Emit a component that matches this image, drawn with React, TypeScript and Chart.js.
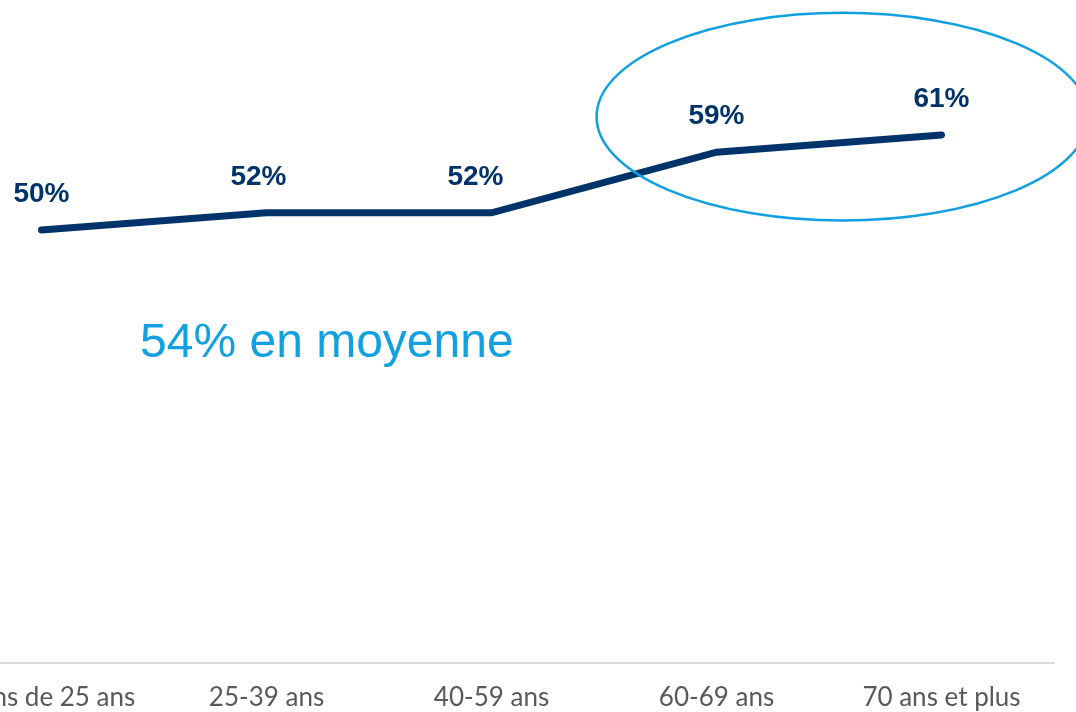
import React, { useEffect, useRef } from "react";
import { Chart, registerables } from "chart.js";

Chart.register(...registerables);

// ---- data ----
const categories: string[] = [
  "Moins de 25 ans",
  "25-39 ans",
  "40-59 ans",
  "60-69 ans",
  "70 ans et plus",
];
const values: number[] = [50, 52, 52, 59, 61];
const valueLabels: string[] = values.map((v) => `${v}%`);
const averageText = "54% en moyenne";
const yMin = 0;
const yMax = 70;

// ---- styles ----
const NAVY = "#00336A";
const LIGHT_BLUE = "#12A0E0";
const AXIS_TEXT = "#595959";
const AXIS_LINE = "#D9D9D9";
const labelNudgeX = [0, -8, -16, 0, 0];

const overlayPlugin = {
  id: "overlay",
  afterDatasetsDraw(chart: any) {
    const ctx = chart.ctx as CanvasRenderingContext2D;
    const meta = chart.getDatasetMeta(0);
    const xs = chart.scales.x;
    const ys = chart.scales.y;
    ctx.save();
    // value labels
    ctx.font = 'bold 28px "Liberation Sans", Arial, sans-serif';
    ctx.fillStyle = NAVY;
    ctx.textAlign = "center";
    ctx.textBaseline = "alphabetic";
    meta.data.forEach((pt: any, i: number) => {
      ctx.fillText(valueLabels[i], pt.x + labelNudgeX[i], pt.y - 28);
    });
    // highlight ellipse around the two last points
    const cx = xs.getPixelForValue(3.56);
    const cy = ys.getPixelForValue(63.1);
    const rx = Math.abs(xs.getPixelForValue(1.093) - xs.getPixelForValue(0));
    const ry = Math.abs(ys.getPixelForValue(12) - ys.getPixelForValue(0));
    ctx.beginPath();
    ctx.ellipse(cx, cy, rx, ry, 0, 0, Math.PI * 2);
    ctx.strokeStyle = LIGHT_BLUE;
    ctx.lineWidth = 2.5;
    ctx.stroke();
    // average annotation
    ctx.font = '48px "Liberation Sans", Arial, sans-serif';
    ctx.fillStyle = LIGHT_BLUE;
    ctx.textAlign = "left";
    ctx.textBaseline = "alphabetic";
    ctx.fillText(averageText, xs.getPixelForValue(0.438), ys.getPixelForValue(35.3));
    ctx.restore();
  },
};

export default function App() {
  const canvasRef = useRef<HTMLCanvasElement | null>(null);

  useEffect(() => {
    if (!canvasRef.current) return;
    const chart = new Chart(canvasRef.current, {
      type: "line",
      data: {
        labels: categories,
        datasets: [
          {
            data: values,
            borderColor: NAVY,
            borderWidth: 7,
            borderCapStyle: "round",
            borderJoinStyle: "miter",
            pointRadius: 0,
            pointHoverRadius: 0,
            tension: 0,
            fill: false,
          },
        ],
      },
      options: {
        animation: false,
        responsive: false,
        maintainAspectRatio: false,
        devicePixelRatio: 1,
        layout: { padding: { left: 29, right: 22, top: 57, bottom: 0 } },
        plugins: {
          legend: { display: false },
          tooltip: { enabled: false },
        },
        scales: {
          x: {
            offset: true,
            grid: { display: false, drawTicks: false },
            border: { display: true, color: AXIS_LINE, width: 2 },
            ticks: {
              color: AXIS_TEXT,
              font: { family: "Lato", size: 26 },
              padding: 19,
              maxRotation: 0,
              autoSkip: false,
            },
          },
          y: {
            display: false,
            min: yMin,
            max: yMax,
          },
        },
      },
      plugins: [overlayPlugin],
    });
    return () => chart.destroy();
  }, []);

  return (
    <div
      style={{
        position: "absolute",
        left: 0,
        top: 0,
        width: 1076,
        height: 712,
        overflow: "hidden",
        background: "#fff",
      }}
    >
      <canvas
        ref={canvasRef}
        width={1176}
        height={732}
        style={{ position: "absolute", left: -100, top: 0, width: 1176, height: 732, display: "block" }}
      />
    </div>
  );
}
